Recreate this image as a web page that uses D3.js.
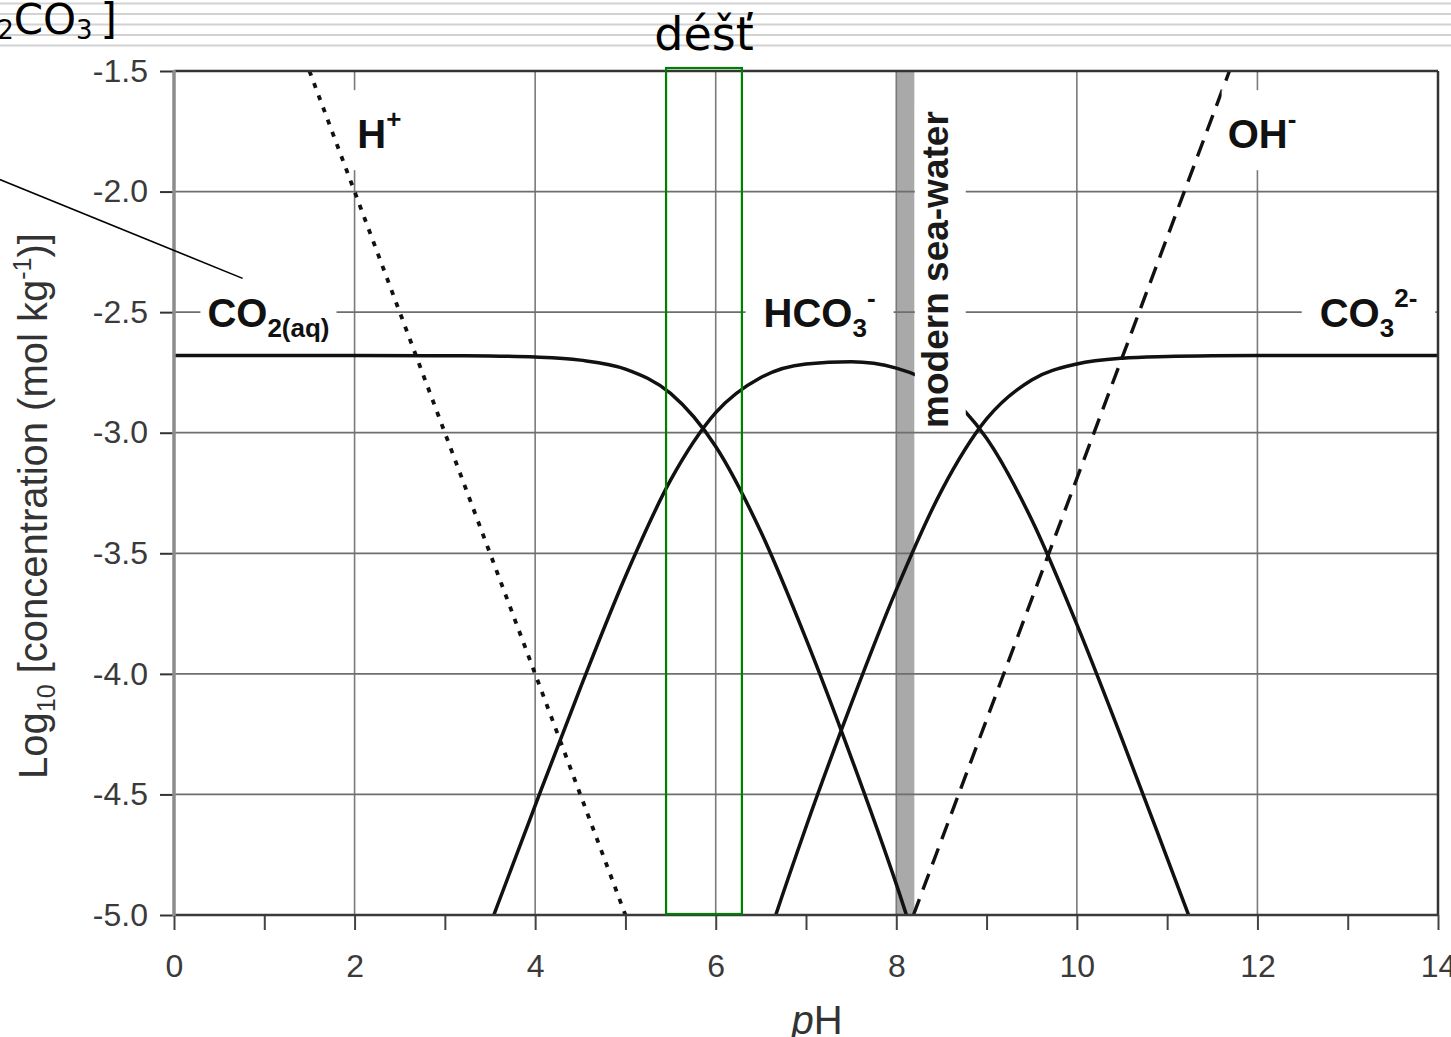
<!DOCTYPE html>
<html>
<head>
<meta charset="utf-8">
<script src="https://cdn.jsdelivr.net/npm/d3@7"></script>
<style>
  html, body { margin: 0; padding: 0; background: #fff; overflow: hidden; }
  svg { display: block; }
  .axis text { font-family: "Liberation Sans", Arial, Helvetica, sans-serif; fill: #3a3a3a; }
  .axis .domain { display: none; }
  .label { font-family: "Liberation Sans", Arial, Helvetica, sans-serif; font-weight: bold; fill: #111; }
  .slide { font-family: Tahoma, "DejaVu Sans", sans-serif; fill: #000; }
</style>
</head>
<body>
<div id="chart"></div>
<script>
// axes
const phTicks = d3.range(0, 15);
const phLabels = [0, 2, 4, 6, 8, 10, 12, 14];
const logTicks = [-1.5, -2.0, -2.5, -3.0, -3.5, -4.0, -4.5, -5.0];
const phGrid = [2, 4, 6, 8, 10, 12];
const logGrid = [-2.0, -2.5, -3.0, -3.5, -4.0, -4.5];

// carbonate species (log10 mol/kg)
const co2PH  = [0, 1, 2, 3, 3.5, 4, 4.5, 5, 5.5, 6, 6.5, 7, 7.5, 8, 8.5];
const co2Log = [-2.68, -2.68, -2.68, -2.681, -2.682, -2.686, -2.699, -2.736, -2.837, -3.057, -3.411, -3.855, -4.346, -4.872, -5.461];
const hco3PH  = [3, 3.5, 4, 4.5, 5, 5.5, 6, 6.5, 7, 7.5, 8, 8.5, 9, 9.5, 10, 10.5, 11, 11.5];
const hco3Log = [-5.541, -5.042, -4.546, -4.059, -3.596, -3.197, -2.917, -2.771, -2.715, -2.706, -2.732, -2.821, -3.023, -3.361, -3.795, -4.271, -4.764, -5.261];
const co3PH  = [6, 6.5, 7, 7.5, 8, 8.5, 9, 9.5, 10, 10.5, 11, 11.5, 12, 13, 14];
const co3Log = [-5.837, -5.191, -4.635, -4.126, -3.652, -3.241, -2.943, -2.781, -2.715, -2.691, -2.684, -2.681, -2.68, -2.68, -2.68];
const hPH  = [1.5, 5.0];
const hLog = [-1.5, -5.0];
const ohPH  = [8.19, 11.69];
const ohLog = [-5.0, -1.5];

// shaded / boxed pH ranges
const seaWaterPH = [8.0, 8.2];
const rainPH = [5.45, 6.29];

// pointer from the [H2CO3] caption towards the CO2(aq) label
const pointerPH  = [-1.93, 0.76];
const pointerLog = [-1.95, -2.36];

const zip = (xs, ys) => xs.map((x, i) => [x, ys[i]]);

class BjerrumChart {

    constructor(opts) {
        this.element = opts.element;
        this.width = 1451;
        this.height = 1037;
        this.margin = { top: 71, right: 13, bottom: 122, left: 174 };
        this.draw();
    }

    draw() {
        this.element.innerHTML = '';
        this.svg = d3.select(this.element).append('svg')
            .attr('width', this.width)
            .attr('height', this.height);

        this.createScales();
        this.addBackground();
        this.addGrid();
        this.addCurves();
        this.addLabels();
        this.addAxes();
        this.addAnnotations();
    }

    createScales() {
        const m = this.margin;
        this.x = d3.scaleLinear().domain([0, 14]).range([m.left, this.width - m.right]);
        this.y = d3.scaleLinear().domain([-1.5, -5.0]).range([m.top, this.height - m.bottom]);
    }

    addBackground() {
        // faint slide ruling across the top
        this.svg.append('g').selectAll('line')
            .data(d3.range(5))
          .enter().append('line')
            .attr('x1', 0).attr('x2', this.width)
            .attr('y1', i => 3.5 + i * 10.5).attr('y2', i => 3.5 + i * 10.5)
            .attr('stroke', '#d2d2d2').attr('stroke-width', 2);
    }

    addGrid() {
        const x = this.x, y = this.y;
        const g = this.svg.append('g');

        // modern sea-water band, under the grid
        g.append('rect')
            .attr('x', x(seaWaterPH[0]))
            .attr('y', y(-1.5))
            .attr('width', x(seaWaterPH[1]) - x(seaWaterPH[0]))
            .attr('height', y(-5.0) - y(-1.5))
            .attr('fill', '#a9a9a9');

        g.selectAll('.vgrid').data(phGrid)
          .enter().append('line')
            .attr('x1', d => x(d)).attr('x2', d => x(d))
            .attr('y1', y(-1.5)).attr('y2', y(-5.0))
            .attr('stroke', '#7a7a7a').attr('stroke-width', 1.6);

        g.selectAll('.hgrid').data(logGrid)
          .enter().append('line')
            .attr('x1', x(0)).attr('x2', x(14))
            .attr('y1', d => y(d)).attr('y2', d => y(d))
            .attr('stroke', '#6e6e6e').attr('stroke-width', 1.8);
    }

    addCurves() {
        const x = this.x, y = this.y;

        this.svg.append('clipPath').attr('id', 'plot-clip')
          .append('rect')
            .attr('x', x(0)).attr('y', y(-1.5))
            .attr('width', x(14) - x(0)).attr('height', y(-5.0) - y(-1.5));

        const g = this.svg.append('g').attr('clip-path', 'url(#plot-clip)');

        const curve = d3.line()
            .x(d => x(d[0]))
            .y(d => y(d[1]))
            .curve(d3.curveMonotoneX);

        [zip(co2PH, co2Log), zip(hco3PH, hco3Log), zip(co3PH, co3Log)].forEach(s => {
            g.append('path')
                .datum(s)
                .attr('d', curve)
                .attr('fill', 'none')
                .attr('stroke', '#111')
                .attr('stroke-width', 3.5);
        });

        const straight = d3.line().x(d => x(d[0])).y(d => y(d[1]));

        g.append('path')
            .datum(zip(hPH, hLog))
            .attr('d', straight)
            .attr('fill', 'none')
            .attr('stroke', '#111')
            .attr('stroke-width', 3.8)
            .attr('stroke-dasharray', '5,8');

        g.append('path')
            .datum(zip(ohPH, ohLog))
            .attr('d', straight)
            .attr('fill', 'none')
            .attr('stroke', '#111')
            .attr('stroke-width', 3.4)
            .attr('stroke-dasharray', '17,10');
    }

    // text with sub/superscripts, returns the <text>
    richText(parent, parts, size, small, subDy, supDy) {
        const text = parent.append('text');
        let shift = 0;
        parts.forEach(p => {
            const target = p.sub ? subDy : (p.sup ? supDy : 0);
            const ts = text.append('tspan')
                .attr('dy', target - shift)
                .attr('font-size', (p.sub || p.sup) ? small : size)
                .text(p.t);
            if (p.dx) ts.attr('dx', p.dx);
            shift = target;
        });
        return text;
    }

    addLabels() {
        const x = this.x, y = this.y;
        const labels = [
            { ph: 0.37,  log: -2.56, pad: [7, 6],  parts: [{t: 'CO'}, {t: '2(aq)', sub: true}] },
            { ph: 6.53,  log: -2.56, pad: [18, 6], parts: [{t: 'HCO'}, {t: '3', sub: true}, {t: '-', sup: true}] },
            { ph: 12.69, log: -2.56, pad: [18, 6], parts: [{t: 'CO'}, {t: '3', sub: true}, {t: '2-', sup: true}] },
            { ph: 2.03,  log: -1.82, pad: [8, 14], parts: [{t: 'H'}, {t: '+', sup: true}] },
            { ph: 11.67, log: -1.82, pad: [6, 14], parts: [{t: 'OH'}, {t: '-', sup: true}] }
        ];

        labels.forEach(l => {
            const g = this.svg.append('g')
                .attr('transform', `translate(${x(l.ph)},${y(l.log)})`);
            const t = this.richText(g, l.parts, 40, 26, 10, -20).attr('class', 'label');
            const b = t.node().getBBox();
            g.insert('rect', 'text')
                .attr('x', b.x - l.pad[0]).attr('y', b.y - l.pad[1])
                .attr('width', b.width + 2 * l.pad[0]).attr('height', b.height + 2 * l.pad[1])
                .attr('fill', '#fff');
        });

        // rotated sea-water caption; its white box starts right of the band
        const ox = x(8.57), oy = y(-2.98);
        const sg = this.svg.append('g')
            .attr('transform', `translate(${ox},${oy}) rotate(-90)`);
        const st = sg.append('text')
            .attr('class', 'label')
            .attr('font-size', 37)
            .style('fill', '#1a1a1a')
            .text('modern sea-water');
        const sb = st.node().getBBox();
        const top = x(seaWaterPH[1]) + 0.5 - ox;
        sg.insert('rect', 'text')
            .attr('x', sb.x - 3).attr('y', top)
            .attr('width', sb.width + 8).attr('height', sb.y + sb.height + 10 - top)
            .attr('fill', '#fff');
    }

    addAxes() {
        const x = this.x, y = this.y;

        const yAxis = d3.axisLeft(y)
            .tickValues(logTicks)
            .tickSize(14)
            .tickPadding(12)
            .tickFormat(d => d.toFixed(1));

        const gy = this.svg.append('g')
            .attr('class', 'y axis')
            .attr('transform', `translate(${x(0)},0)`)
            .call(yAxis);
        gy.selectAll('.tick line').attr('stroke', '#333').attr('stroke-width', 2);
        gy.selectAll('.tick text').attr('font-size', 32);

        const xAxis = d3.axisBottom(x)
            .tickValues(phTicks)
            .tickSize(15)
            .tickPadding(24)
            .tickFormat(d => phLabels.includes(d) ? d : '');

        const gx = this.svg.append('g')
            .attr('class', 'x axis')
            .attr('transform', `translate(0,${y(-5.0)})`)
            .call(xAxis);
        gx.selectAll('.tick line').attr('stroke', '#444').attr('stroke-width', 2);
        gx.selectAll('.tick text').attr('font-size', 32);

        // frame
        const f = this.svg.append('g');
        f.append('line')
            .attr('x1', x(0)).attr('x2', x(14)).attr('y1', y(-1.5)).attr('y2', y(-1.5))
            .attr('stroke', '#333').attr('stroke-width', 2.5);
        f.append('line')
            .attr('x1', x(14)).attr('x2', x(14)).attr('y1', y(-1.5)).attr('y2', y(-5.0))
            .attr('stroke', '#333').attr('stroke-width', 2.5);
        f.append('line')
            .attr('x1', x(0)).attr('x2', x(14)).attr('y1', y(-5.0)).attr('y2', y(-5.0))
            .attr('stroke', '#3a3a3a').attr('stroke-width', 2.5);
        f.append('line')
            .attr('x1', x(0)).attr('x2', x(0)).attr('y1', y(-1.5) - 1).attr('y2', y(-5.0) + 1)
            .attr('stroke', '#8c8c8c').attr('stroke-width', 3.5);

        // axis titles
        const yl = this.svg.append('g')
            .attr('transform', `translate(47,506) rotate(-90)`);
        this.richText(yl, [
                {t: 'Log'}, {t: '10', sub: true},
                {t: ' [concentration (mol kg'}, {t: '-1', sup: true}, {t: ')]'}
            ], 40, 25, 8, -16)
            .attr('text-anchor', 'middle')
            .style('font-family', '"Liberation Sans", Arial, sans-serif')
            .style('fill', '#333');

        const xl = this.svg.append('text')
            .attr('x', 817).attr('y', this.height - 3)
            .attr('text-anchor', 'middle')
            .attr('font-size', 40)
            .style('font-family', '"Liberation Sans", Arial, sans-serif')
            .style('fill', '#333');
        xl.append('tspan').style('font-style', 'italic').text('p');
        xl.append('tspan').text('H');
    }

    addAnnotations() {
        const x = this.x, y = this.y;

        // rain range box
        this.svg.append('rect')
            .attr('x', x(rainPH[0]))
            .attr('y', y(-1.5) - 3)
            .attr('width', x(rainPH[1]) - x(rainPH[0]))
            .attr('height', y(-5.0) - y(-1.5) + 2)
            .attr('fill', 'none')
            .attr('stroke', '#008000')
            .attr('stroke-width', 2.2);

        this.svg.append('text')
            .attr('class', 'slide')
            .attr('x', (x(rainPH[0]) + x(rainPH[1])) / 2)
            .attr('y', 50)
            .attr('text-anchor', 'middle')
            .attr('font-size', 46)
            .text('déšť');

        // [H2CO3] caption, cut by the left edge
        const cap = this.svg.append('g').attr('transform', 'translate(117,34)');
        this.richText(cap, [
                {t: '[H'}, {t: '2', sub: true}, {t: 'CO'}, {t: '3', sub: true}, {t: ']', dx: 8}
            ], 42, 26, 5, -14)
            .attr('class', 'slide')
            .attr('text-anchor', 'end');

        this.svg.append('line')
            .attr('x1', x(pointerPH[0])).attr('y1', y(pointerLog[0]))
            .attr('x2', x(pointerPH[1])).attr('y2', y(pointerLog[1]))
            .attr('stroke', '#000').attr('stroke-width', 1.6);
    }
}

new BjerrumChart({ element: document.getElementById('chart') });
</script>
</body>
</html>
